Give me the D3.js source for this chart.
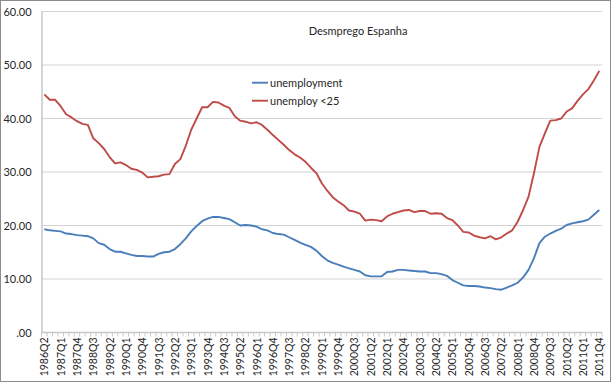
<!DOCTYPE html>
<html>
<head>
<meta charset="utf-8">
<script src="https://cdn.jsdelivr.net/npm/d3@7"></script>
<style>
  html, body { margin: 0; padding: 0; background: #fff; }
  svg { display: block; }
  text { font-family: Lato, "Open Sans", sans-serif; fill: #262626; }
</style>
</head>
<body>
<svg id="chart" width="612" height="383"></svg>
<script>
// ---- data ----
const title = "Desmprego Espanha";
const seriesNames = ["unemployment", "unemploy <25"];
const startYear = 1986, startQuarter = 2, nQuarters = 103;
const categories = [];
for (let k = 0; k < nQuarters; k++) {
  const q = startQuarter - 1 + k;
  categories.push((startYear + Math.floor(q / 4)) + "Q" + (q % 4 + 1));
}
const tickLabels = ["1986Q2","1987Q1","1987Q4","1988Q3","1989Q2","1990Q1","1990Q4","1991Q3",
  "1992Q2","1993Q1","1993Q4","1994Q3","1995Q2","1996Q1","1996Q4","1997Q3","1998Q2","1999Q1",
  "1999Q4","2000Q3","2001Q2","2002Q1","2002Q4","2003Q3","2004Q2","2005Q1","2005Q4","2006Q3",
  "2007Q2","2008Q1","2008Q4","2009Q3","2010Q2","2011Q1","2011Q4"];
const yTicks = [0, 10, 20, 30, 40, 50, 60];

const unemployment = [
  19.3,19.1,19.0,18.9,18.5,18.4,18.2,18.1,18.0,17.6,
  16.7,16.4,15.6,15.1,15.1,14.8,14.5,14.3,14.3,14.2,
  14.2,14.7,15.0,15.1,15.6,16.5,17.6,18.9,19.9,20.8,
  21.3,21.6,21.6,21.4,21.2,20.6,20.0,20.1,20.0,19.8,
  19.3,19.1,18.6,18.4,18.3,17.8,17.3,16.8,16.4,16.0,
  15.3,14.3,13.5,13.0,12.7,12.3,12.0,11.7,11.4,10.7,
  10.5,10.5,10.5,11.3,11.4,11.7,11.7,11.6,11.5,11.4,
  11.4,11.1,11.1,10.9,10.6,9.8,9.3,8.8,8.7,8.7,
  8.6,8.4,8.3,8.1,8.0,8.4,8.8,9.3,10.3,11.7,
  13.9,16.7,17.9,18.5,19.0,19.4,20.1,20.4,20.6,20.8,
  21.1,22.0,22.9];
const unemployUnder25 = [
  44.5,43.5,43.5,42.3,40.8,40.2,39.5,39.0,38.8,36.3,
  35.4,34.3,32.8,31.6,31.8,31.3,30.6,30.4,29.9,29.0,
  29.1,29.2,29.5,29.6,31.5,32.4,34.9,37.9,40.0,42.1,
  42.1,43.1,43.0,42.4,42.0,40.4,39.6,39.4,39.1,39.3,
  38.8,37.9,36.9,36.0,35.1,34.1,33.3,32.7,31.9,30.8,
  29.8,27.9,26.5,25.3,24.5,23.8,22.8,22.6,22.2,20.9,
  21.1,21.0,20.8,21.7,22.2,22.5,22.8,22.9,22.5,22.7,
  22.7,22.2,22.3,22.2,21.4,21.0,20.0,18.8,18.7,18.1,
  17.8,17.6,18.0,17.4,17.8,18.5,19.1,20.7,22.9,25.4,
  29.8,34.7,37.2,39.6,39.7,40.0,41.3,41.9,43.3,44.5,
  45.5,47.1,48.9];
const colors = ["#4a7ebb", "#be4b48"];

// ---- chart ----
const svg = d3.select("#chart");
const W = 612, H = 383;
const plot = { left: 41.6, right: 602, top: 11.5, bottom: 332.5 };

svg.append("rect").attr("x", 0.5).attr("y", 0.5).attr("width", W - 2).attr("height", H - 2)
  .attr("fill", "#fff").attr("stroke", "#8c8c8c").attr("stroke-width", 1);

const x = d3.scaleBand().domain(categories).range([plot.left, plot.right]).paddingInner(0).paddingOuter(0);
const cx = c => x(c) + x.bandwidth() / 2;
const y = d3.scaleLinear().domain([0, 60]).range([plot.bottom, plot.top]);

// gridlines
svg.append("g").selectAll("line").data(yTicks.filter(d => d > 0)).join("line")
  .attr("x1", plot.left).attr("x2", plot.right)
  .attr("y1", d => y(d)).attr("y2", d => y(d))
  .attr("stroke", "#d4d4d4").attr("stroke-width", 1.2);

// y axis labels
const yAxis = d3.axisLeft(y).tickValues(yTicks).tickSize(0).tickPadding(10)
  .tickFormat(d => d === 0 ? ".00" : d.toFixed(2));
const gy = svg.append("g").attr("transform", `translate(${plot.left},0)`).call(yAxis);
gy.select(".domain").remove();
gy.selectAll("text").style("font-size", "11px").attr("fill", "#262626")
  .style("font-family", "Lato, sans-serif");

// y axis line
svg.append("line").attr("x1", plot.left + 0.4).attr("x2", plot.left + 0.4)
  .attr("y1", plot.top).attr("y2", plot.bottom)
  .attr("stroke", "#c8c8c8").attr("stroke-width", 1.5);

// x axis line and category ticks
svg.append("line").attr("x1", plot.left).attr("x2", plot.right)
  .attr("y1", plot.bottom).attr("y2", plot.bottom)
  .attr("stroke", "#c8c8c8").attr("stroke-width", 1.5);
const bounds = categories.map(c => x(c)).concat([x(categories[categories.length - 1]) + x.bandwidth()]);
svg.append("g").selectAll("line").data(bounds).join("line")
  .attr("x1", d => d).attr("x2", d => d)
  .attr("y1", plot.bottom).attr("y2", plot.bottom + 4)
  .attr("stroke", "#c8c8c8").attr("stroke-width", 1);

// x labels
svg.append("g").selectAll("text").data(tickLabels).join("text")
  .attr("transform", d => `translate(${cx(d) + 4},${plot.bottom + 5}) rotate(-90)`)
  .attr("text-anchor", "end")
  .style("font-size", "10.5px")
  .text(d => d);

// lines
const line = d3.line().x((d, i) => cx(categories[i])).y(d => y(d));
[unemployment, unemployUnder25].forEach((s, k) => {
  svg.append("path").datum(s).attr("d", line)
    .attr("fill", "none").attr("stroke", colors[k]).attr("stroke-width", 1.9)
    .attr("stroke-linejoin", "round");
});

// title
svg.append("text").attr("x", 358).attr("y", 35).attr("text-anchor", "middle")
  .style("font-size", "11px").text(title);

// legend
const lg = svg.append("g");
seriesNames.forEach((n, k) => {
  const ly = 82.7 + k * 18;
  lg.append("line").attr("x1", 252).attr("x2", 268).attr("y1", ly).attr("y2", ly)
    .attr("stroke", colors[k]).attr("stroke-width", 1.9);
  lg.append("text").attr("x", 270).attr("y", ly + 4).style("font-size", "11px").text(n);
});
</script>
</body>
</html>
